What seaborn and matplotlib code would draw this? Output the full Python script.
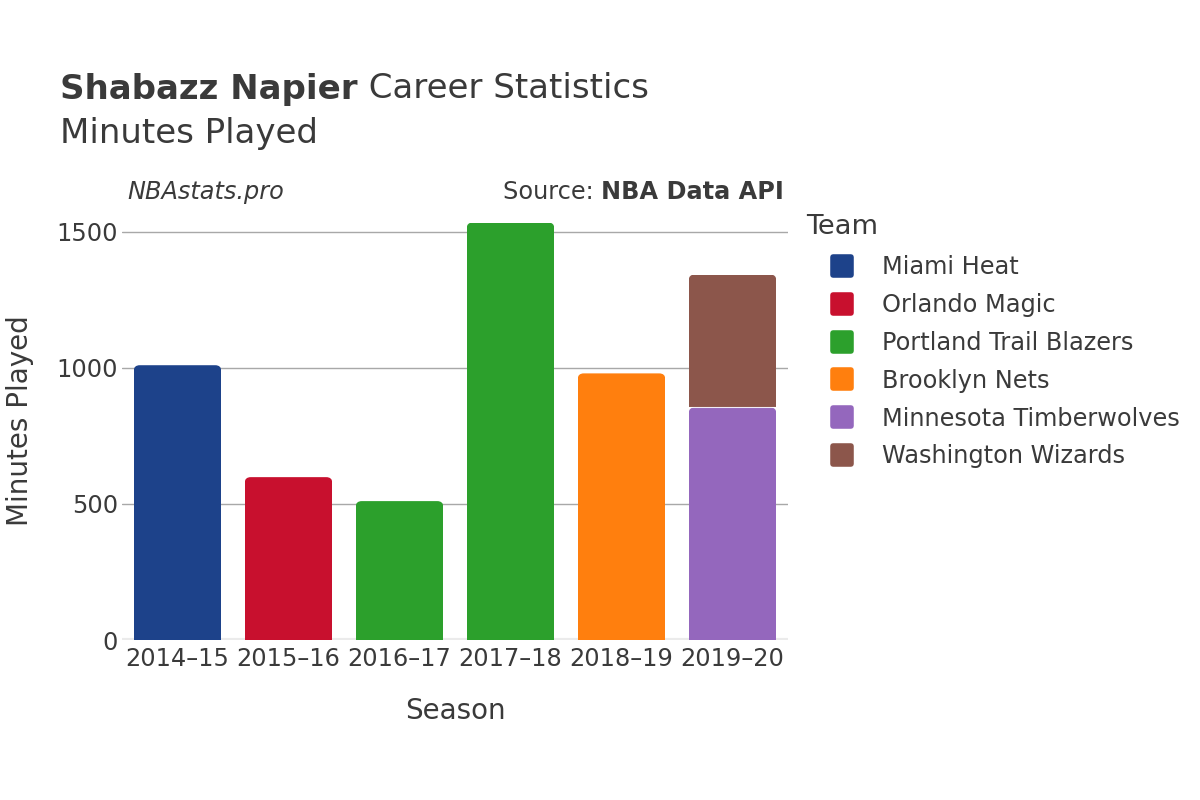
import matplotlib
matplotlib.use('Agg')
import matplotlib.pyplot as plt
import matplotlib.patches as mpatches
from matplotlib.lines import Line2D
from matplotlib.markers import MarkerStyle
import pandas as pd
import seaborn as sns

seasons = ['2014–15', '2015–16', '2016–17', '2017–18', '2018–19', '2019–20']
teams = ['Miami Heat', 'Orlando Magic', 'Portland Trail Blazers', 'Brooklyn Nets',
         'Minnesota Timberwolves', 'Washington Wizards']
team_colors = ['#1d428a', '#c8102e', '#2ca02c', '#ff7f0e', '#9467bd', '#8c564b']

# one entry per (season, team) segment, in stacking order
seg_season = ['2014–15', '2015–16', '2016–17', '2017–18', '2018–19', '2019–20', '2019–20']
seg_team = ['Miami Heat', 'Orlando Magic', 'Portland Trail Blazers', 'Portland Trail Blazers',
            'Brooklyn Nets', 'Minnesota Timberwolves', 'Washington Wizards']
seg_minutes = [1009, 598, 510, 1533, 979, 854, 488]

TXT = '#3a3a3a'
W, H = 1200, 800

df = pd.DataFrame({'season': seg_season, 'team': seg_team, 'minutes': seg_minutes})
df['bottom'] = df.groupby('season')['minutes'].cumsum() - df['minutes']
df['top'] = df['bottom'] + df['minutes']

sns.set_theme(style='white')
plt.rcParams['font.family'] = ['DejaVu Sans']

fig = plt.figure(figsize=(12, 8), dpi=100)
ax = fig.add_axes([122 / W, 1 - 640 / H, (788 - 122) / W, (640 - 201) / H])
ax.set_ylim(0, 1612)

for v in [500, 1000, 1500]:
    ax.axhline(v, color='#a8a8a8', lw=1, zorder=0)

# draw segments from top-most stack level down so lower ones sit on top
color_map = dict(zip(teams, team_colors))
order_idx = df.sort_values('top', ascending=False).index
for i in order_idx:
    row = df.loc[[i]]
    sns.barplot(data=row, x='season', y='top', order=seasons, color=color_map[row['team'].iloc[0]],
                width=0.79, saturation=1, ax=ax, zorder=2)

# round the top corners of each bar segment
bars = list(ax.patches)
px_x = (788 - 122) / len(seasons)
px_y = (640 - 201) / 1612
r_x = 6 / px_x
for p, i in zip(bars, order_idx):
    x0, w = p.get_x(), p.get_width()
    top = df.loc[i, 'top']
    bot = df.loc[i, 'bottom']
    r_y = 6 / px_y
    p.remove()
    clip = mpatches.Rectangle((x0, bot), w, top - bot, transform=ax.transData)
    fb = mpatches.FancyBboxPatch((x0 + r_x, bot - r_y), w - 2 * r_x, top - bot,
                                 boxstyle=f'round,pad={r_x},rounding_size={r_x}',
                                 mutation_aspect=r_y / r_x,
                                 facecolor=color_map[df.loc[i, 'team']], edgecolor='none', zorder=2)
    ax.add_patch(fb)
    fb.set_clip_path(clip)
    if bot > 0:
        ax.plot([x0, x0 + w], [bot, bot], color='white', lw=0.8, alpha=0.8, zorder=3)

ax.axhline(0, color='#ebebeb', lw=3, zorder=1)
ax.set_xlim(-0.5, len(seasons) - 0.5)
sns.despine(ax=ax, left=True, bottom=True)
ax.tick_params(axis='both', length=0, labelsize=17.3, labelcolor=TXT)
ax.tick_params(axis='y', pad=3)
ax.tick_params(axis='x', pad=5)
ax.set_yticks([0, 500, 1000, 1500])
ax.set_xlabel('Season', fontsize=20, color=TXT, labelpad=19)
ax.set_ylabel('Minutes Played', fontsize=20, color=TXT, labelpad=16)

# titles
fig.canvas.draw()
rend = fig.canvas.get_renderer()
t1 = fig.text(60 / W, 1 - 89 / H, 'Shabazz Napier', fontsize=24.5, fontweight='bold', color=TXT, va='center')
ext = t1.get_window_extent(rend)
fig.text(ext.x1 / W, 1 - 89 / H, ' Career Statistics', fontsize=24.5, color=TXT, va='center')
fig.text(60 / W, 1 - 133 / H, 'Minutes Played', fontsize=24.5, color=TXT, va='center')

fig.text(127 / W, 1 - 192 / H, 'NBAstats.pro', fontsize=17.3, style='italic', color=TXT, va='center')
s2 = fig.text(784 / W, 1 - 192 / H, 'NBA Data API', fontsize=17.3, fontweight='bold', color=TXT,
              va='center', ha='right')
ext2 = s2.get_window_extent(rend)
fig.text(ext2.x0 / W, 1 - 192 / H, 'Source: ', fontsize=17.3, color=TXT, va='center', ha='right')

handles = [Line2D([0], [0], marker=MarkerStyle('s', joinstyle='round'), linestyle='none',
                  markersize=13, markerfacecolor=c, markeredgecolor=c, markeredgewidth=4, label=t)
           for t, c in zip(teams, team_colors)]
leg = fig.legend(handles=handles, title='Team', loc='upper left', bbox_to_anchor=(806 / W, 1 - 214 / H),
                 frameon=False, fontsize=17.3, title_fontsize=19.6, labelspacing=0.575,
                 handletextpad=0.15, borderaxespad=0, borderpad=0, handlelength=3.0)
leg._legend_box.align = 'left'
leg._legend_box.sep = 11
for t in leg.get_texts():
    t.set_color(TXT)
leg.get_title().set_color(TXT)

fig.savefig('out.png', dpi=100, facecolor='white')
